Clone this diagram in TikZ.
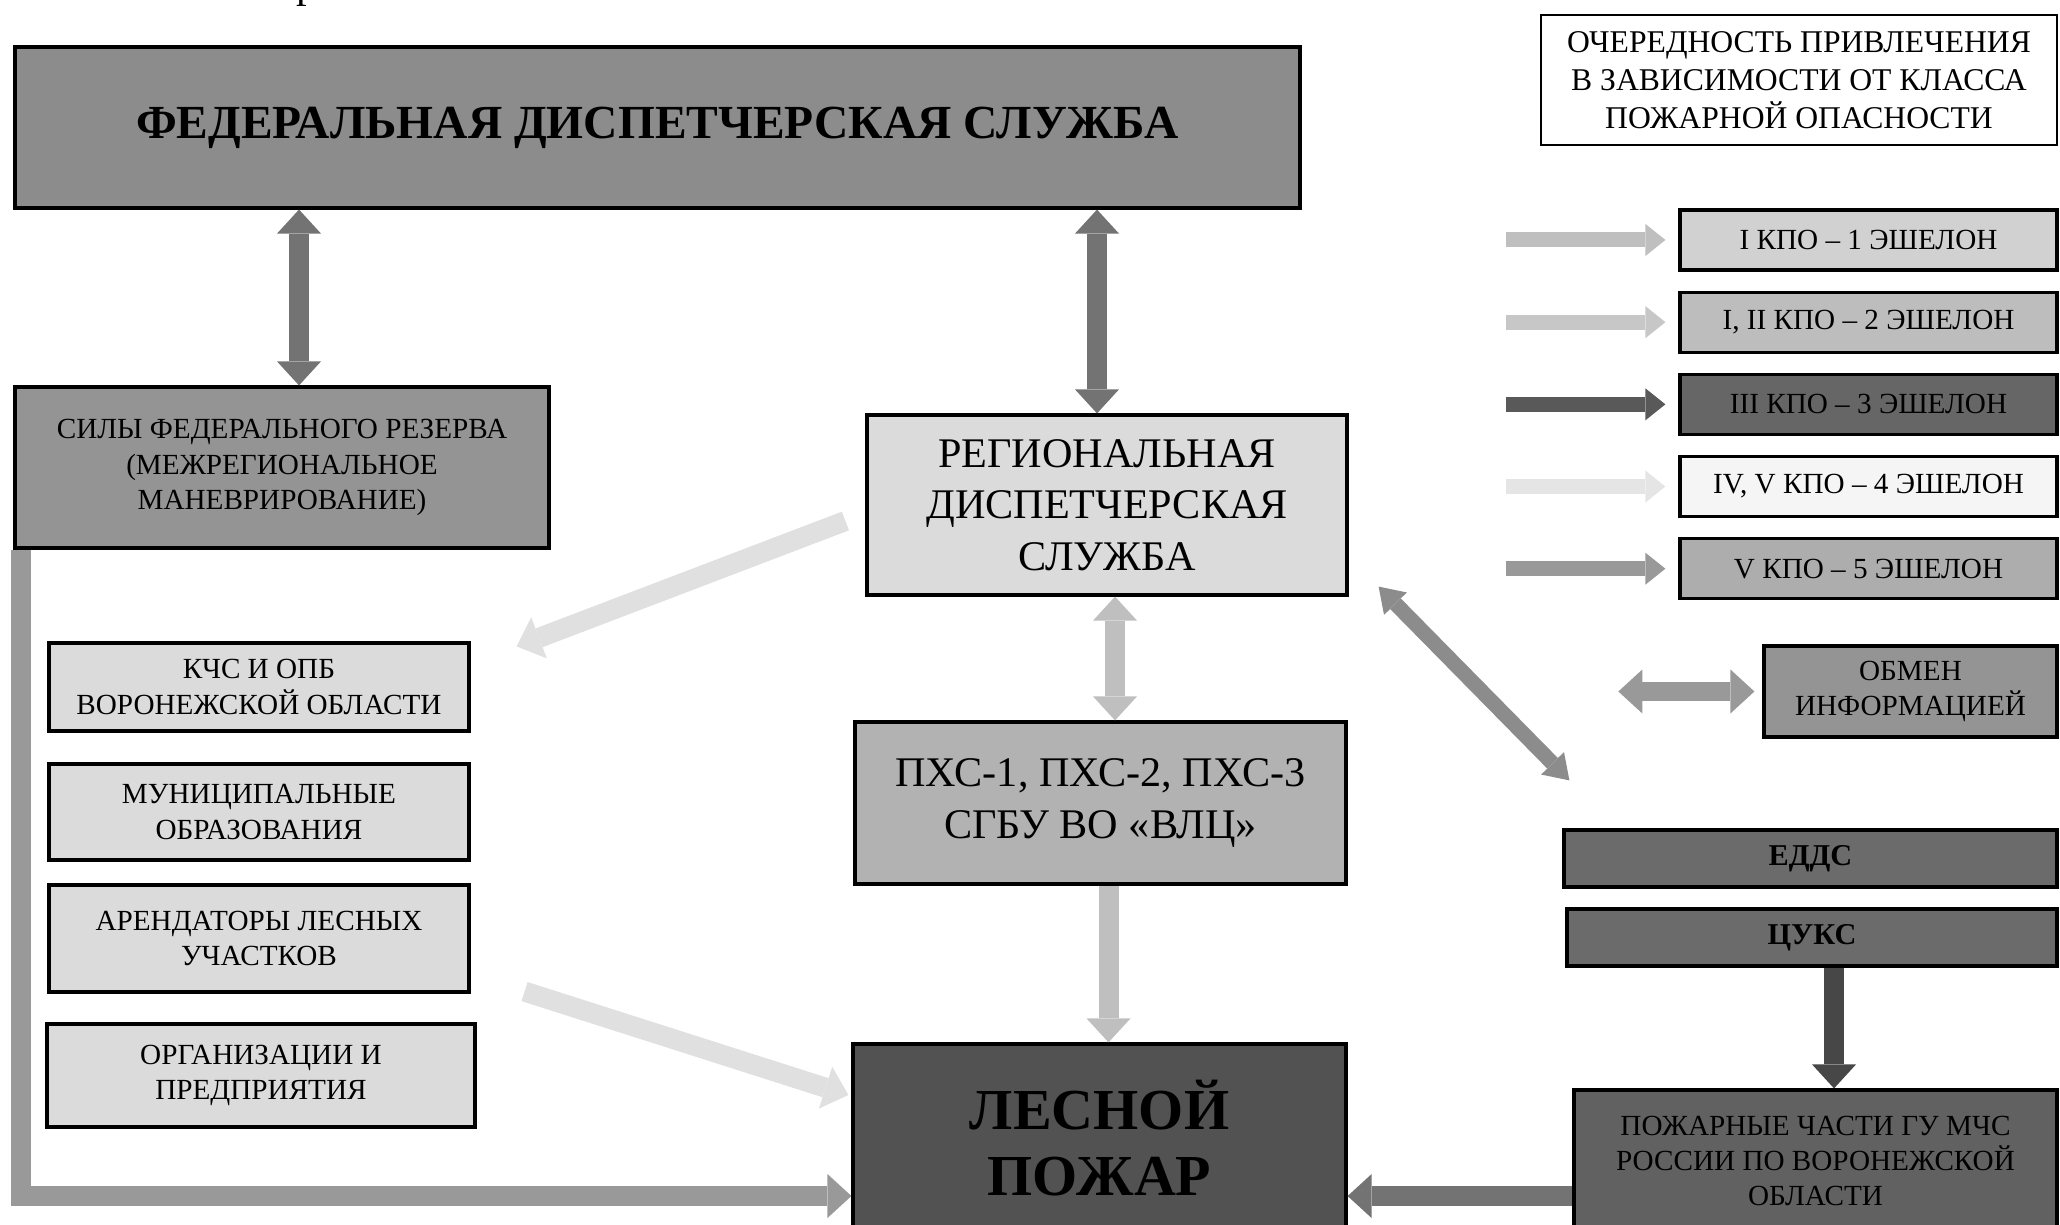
\documentclass[tikz,border=0pt]{standalone}
\usepackage{fontspec}
\setmainfont{Liberation Serif}
\usetikzlibrary{arrows.meta,shapes,positioning,calc}

% fills of the boxes
\colorlet{fedfill}{black!45}
\colorlet{silyfill}{black!42}
\colorlet{regfill}{black!14}
\colorlet{pxsfill}{black!30}
\colorlet{lesfill}{black!68}
\colorlet{lightfill}{black!14}
\colorlet{obmfill}{black!42}
\colorlet{mchsfill}{black!58}
\colorlet{pozhfill}{black!62}
\colorlet{echAfill}{black!18}
\colorlet{echBfill}{black!26}
\colorlet{echCfill}{black!60}
\colorlet{echDfill}{black!4}
\colorlet{echEfill}{black!32}
% arrows
\colorlet{darkarr}{black!55}
\colorlet{lightarr}{black!25}
\colorlet{leftarr}{black!40}
\colorlet{diagarr}{black!45}
\colorlet{cuksarr}{black!72}
\colorlet{pozharr}{black!55}
\colorlet{obmarr}{black!40}
\colorlet{faintarr}{black!12}
\colorlet{echAarr}{black!25}
\colorlet{echBarr}{black!22}
\colorlet{echCarr}{black!65}
\colorlet{echDarr}{black!10}
\colorlet{echEarr}{black!40}

\tikzset{
  box/.style={draw, line width=0.9pt, inner sep=0pt, align=center,
    font=\fontsize{8.3}{10}\selectfont},
  wh/.style 2 args={minimum width=#1*0.01cm, minimum height=#2*0.01cm},
  legbox/.style={box, wh={377}{60}},
  bigtxt/.style={font=\fontsize{12}{14.6}\selectfont},
  link/.style={line width=2mm},
  leglink/.style={line width=1.5mm, -{Triangle[width=3.2mm,length=2mm,line width=0pt]}}
}

\begin{document}
\begin{tikzpicture}[x=0.01cm, y=-0.01cm,
    >={Triangle[width=4.4mm,length=2.4mm,line width=0pt]}]

      % Definitions
      \pgfmathsetmacro{\legx}{1868.5}
      \useasboundingbox (0,0) rectangle (2060,1225);

      % cut-off letter above the frame
      \node[anchor=base, font=\fontsize{12}{12}\selectfont] (frag) at (307,-2) {р};

      % federal level
      \node[box, wh={1285}{161}, fill=fedfill,
        font=\bfseries\fontsize{13.5}{16}\selectfont] (fed) at (657.5,127.5)
        {ФЕДЕРАЛЬНАЯ ДИСПЕТЧЕРСКАЯ СЛУЖБА};
      \node[box, wh={534}{161}, fill=silyfill] (sily) at (282,467.5)
        {СИЛЫ ФЕДЕРАЛЬНОГО РЕЗЕРВА\\(МЕЖРЕГИОНАЛЬНОЕ\\МАНЕВРИРОВАНИЕ)};

      % regional level
      \node[box, bigtxt, wh={480}{180}, fill=regfill] (reg) at (1107,505)
        {РЕГИОНАЛЬНАЯ\\ДИСПЕТЧЕРСКАЯ\\СЛУЖБА};
      \node[box, bigtxt, wh={491}{162}, fill=pxsfill] (pxs) at (1100.5,803)
        {ПХС-1, ПХС-2, ПХС-3\\СГБУ ВО «ВЛЦ»};
      \node[box, wh={493}{188}, fill=lesfill,
        font=\bfseries\fontsize{16.5}{19}\selectfont] (les) at (1099.5,1138)
        {ЛЕСНОЙ\\ПОЖАР};

      % forces of the region
      \node[box, wh={420}{88}, fill=lightfill] (kchs) at (259,687)
        {КЧС И ОПБ\\ВОРОНЕЖСКОЙ ОБЛАСТИ};
      \node[box, wh={420}{96}, fill=lightfill] (mun) at (259,812)
        {МУНИЦИПАЛЬНЫЕ\\ОБРАЗОВАНИЯ};
      \node[box, wh={420}{107}, fill=lightfill] (arend) at (259,938.5)
        {АРЕНДАТОРЫ ЛЕСНЫХ\\УЧАСТКОВ};
      \node[box, wh={428}{103}, fill=lightfill] (org) at (261,1075.5)
        {ОРГАНИЗАЦИИ И\\ПРЕДПРИЯТИЯ};

      % MChS side
      \node[box, wh={293}{91}, fill=obmfill] (obm) at (1910.5,691.5)
        {ОБМЕН\\ИНФОРМАЦИЕЙ};
      \node[box, wh={493}{57}, fill=mchsfill,
        font=\bfseries\fontsize{8.6}{10}\selectfont] (edds) at (1810.5,858.5) {ЕДДС};
      \node[box, wh={490}{57}, fill=mchsfill,
        font=\bfseries\fontsize{8.6}{10}\selectfont] (cuks) at (1812,937.5) {ЦУКС};
      \node[box, wh={483}{142}, fill=pozhfill] (pozh) at (1815.5,1161)
        {ПОЖАРНЫЕ ЧАСТИ ГУ МЧС\\РОССИИ ПО ВОРОНЕЖСКОЙ\\ОБЛАСТИ};

      % legend
      \node[box, line width=0.7pt, wh={516}{130},
        font=\fontsize{9}{10.8}\selectfont] (legtitle) at (1799,80)
        {ОЧЕРЕДНОСТЬ ПРИВЛЕЧЕНИЯ\\В ЗАВИСИМОСТИ ОТ КЛАССА\\ПОЖАРНОЙ ОПАСНОСТИ};
      \node[legbox, fill=echAfill] (ech1) at (\legx,240) {I КПО – 1 ЭШЕЛОН};
      \node[legbox, fill=echBfill, below=1.9mm of ech1] (ech2) {I, II КПО – 2 ЭШЕЛОН};
      \node[legbox, fill=echCfill, below=1.9mm of ech2] (ech3) {III КПО – 3 ЭШЕЛОН};
      \node[legbox, fill=echDfill, below=1.9mm of ech3] (ech4) {IV, V КПО – 4 ЭШЕЛОН};
      \node[legbox, fill=echEfill, below=1.9mm of ech4] (ech5) {V КПО – 5 ЭШЕЛОН};

      \draw[leglink, draw=echAarr] ([xshift=-17.2mm]ech1.west) -- ([xshift=-1.3mm]ech1.west);
      \draw[leglink, draw=echBarr] ([xshift=-17.2mm]ech2.west) -- ([xshift=-1.3mm]ech2.west);
      \draw[leglink, draw=echCarr] ([xshift=-17.2mm]ech3.west) -- ([xshift=-1.3mm]ech3.west);
      \draw[leglink, draw=echDarr] ([xshift=-17.2mm]ech4.west) -- ([xshift=-1.3mm]ech4.west);
      \draw[leglink, draw=echEarr] ([xshift=-17.2mm]ech5.west) -- ([xshift=-1.3mm]ech5.west);
      \draw[link, line width=1.8mm, <->, draw=obmarr]
        ([xshift=-14.4mm]obm.west) -- ([xshift=-0.8mm]obm.west);

      % links
      \draw[link, <->, draw=darkarr] ([xshift=1.7mm]sily.north)
        -- ([xshift=1.7mm]sily.north |- fed.south);
      \draw[link, <->, draw=darkarr] ([xshift=-1mm]reg.north)
        -- ([xshift=-1mm]reg.north |- fed.south);
      \draw[link, <->, draw=lightarr] ([xshift=0.8mm]reg.south)
        -- ([xshift=0.8mm]reg.south |- pxs.north);
      \draw[link, ->, draw=lightarr] ([xshift=0.8mm]pxs.south)
        -- ([xshift=0.8mm]pxs.south |- les.north);
      \draw[link, ->, draw=leftarr] ([xshift=0.8mm]sily.south west)
        |- ([yshift=-5.8mm]les.west);
      \draw[link, ->, draw=cuksarr] ([xshift=2.2mm]cuks.south)
        -- ([xshift=2.2mm]cuks.south |- pozh.north);
      \draw[link, ->, draw=pozharr] ([yshift=-3.5mm]pozh.west)
        -- ([yshift=-3.5mm]pozh.west -| les.east);
      \draw[link, line width=1.5mm, <->, draw=diagarr,
        >={Triangle[width=3.2mm,length=2.4mm,line width=0pt]}]
        ($(reg.south east)+(30,-10)$) -- ($(edds.north west)+(7,-48)$);

      % faint links of the 4th echelon
      \draw[link, ->, draw=faintarr] ($(reg.west)+(-20,16)$) -- ($(kchs.north east)+(46,5)$);
      \draw[link, ->, draw=faintarr] ($(arend.south east)+(54,-2)$) -- ($(les.west)+(-3,-43)$);
\end{tikzpicture}
\end{document}
